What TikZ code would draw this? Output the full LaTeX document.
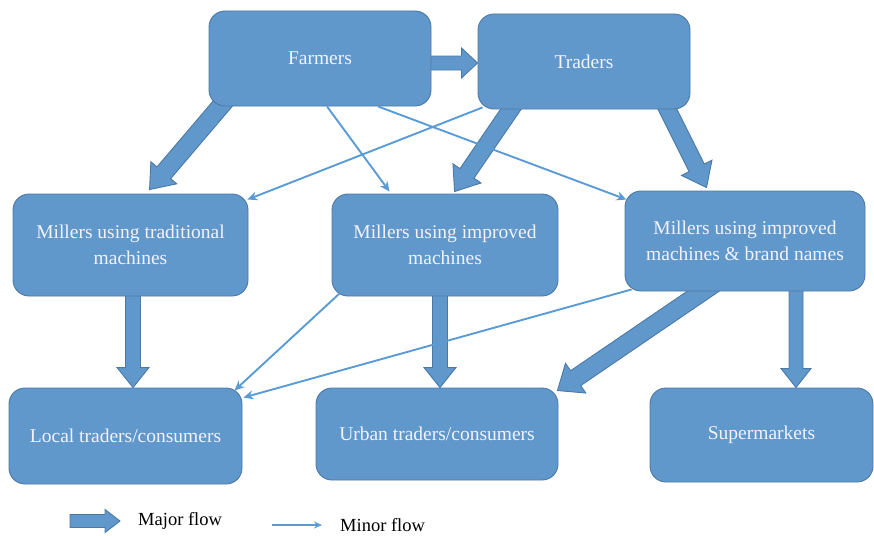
\documentclass[tikz,border=0pt]{standalone}
\usepackage{fontspec}
\setmainfont{Liberation Serif}
\usetikzlibrary{calc,arrows.meta}
\pgfdeclarelayer{bg}
\pgfsetlayers{bg,main}
\definecolor{boxfill}{HTML}{6198CB}
\definecolor{boxline}{HTML}{4A79A8}
\definecolor{minorc}{HTML}{5B9BD5}
\tikzset{
  box/.style={draw=boxline, line width=0.9pt, fill=boxfill, rounded corners=16pt,
    text=white!95!blue, align=center, font=\fontsize{19.5}{26}\selectfont, inner sep=0pt},
  major/.style={draw=boxline, line width=0.9pt, fill=boxfill, line join=miter},
  minor/.style={draw=minorc, line width=1.9pt, -{Stealth[length=10pt,width=9pt]}},
  legtext/.style={font=\fontsize{18.5}{20}\selectfont, anchor=west, inner sep=0pt}
}
\newcommand\blockarr[5]{%
  \coordinate (bh) at ($(#2)!#5!(#1)$);
  \draw[major] ($(#1)!#3!90:(#2)$) -- ($(bh)!#3!90:(#2)$) -- ($(bh)!#4!90:(#2)$)
    -- (#2) -- ($(bh)!#4!-90:(#2)$) -- ($(bh)!#3!-90:(#2)$) -- ($(#1)!#3!-90:(#2)$) -- cycle;
}
\begin{document}
\begin{tikzpicture}[x=1pt,y=-1pt]
\useasboundingbox (0,0) rectangle (874,535);
% boxes
\node[box, minimum width=222pt, minimum height=95pt] (farmers) at (320,58.5) {Farmers};
\node[box, minimum width=212pt, minimum height=95pt] (traders) at (584,61.5) {Traders};
\node[box, minimum width=235pt, minimum height=102pt] (mtrad) at (130.5,245) {Millers using traditional\\machines};
\node[box, minimum width=226pt, minimum height=102pt] (mimp) at (445,245) {Millers using improved\\machines};
\node[box, minimum width=240pt, minimum height=100pt] (mbrand) at (745,241) {Millers using improved\\machines \& brand names};
\node[box, minimum width=233pt, minimum height=96pt] (local) at (125.5,436) {Local traders/consumers};
\node[box, minimum width=242pt, minimum height=92pt] (urban) at (437,434) {Urban traders/consumers};
\node[box, minimum width=223pt, minimum height=94pt] (super) at (761.5,435) {Supermarkets};

% minor flows
\draw[minor] ($(farmers.south)+(7,0)$) -- ($(mimp.north west)+(58,-2)$);
\draw[minor] ($(farmers.south)+(58,0)$) -- ($(mbrand.north west)+(2,9)$);
\draw[minor] ($(traders.south west)+(5,-2)$) -- ($(mtrad.north east)+(-1,6)$);
\draw[minor] ($(mimp.south west)+(8,-3)$) -- ($(local.north east)+(-8,3)$);
\draw[minor] ($(mbrand.south west)+(7,-2)$) -- ($(local.north east)+(1,10)$);

% major flows (behind the boxes)
\begin{pgfonlayer}{bg}
\coordinate (a1) at ($(farmers.east)+(-10,4.5)$);
\coordinate (b1) at (traders.west |- a1);
\blockarr{a1}{b1}{7pt}{15pt}{16pt}
\coordinate (a2) at ($(farmers.south west)+(22,-12)$);
\coordinate (b2) at ($(mtrad.north west)+(137,-4)$);
\blockarr{a2}{b2}{9pt}{17pt}{22pt}
\coordinate (a3) at ($(traders.south west)+(40,-10)$);
\coordinate (b3) at ($(mimp.north west)+(123,-2)$);
\blockarr{a3}{b3}{8.5pt}{17pt}{22pt}
\coordinate (a4) at ($(traders.south west)+(185,-10)$);
\coordinate (b4) at ($(mbrand.north west)+(82,-3)$);
\blockarr{a4}{b4}{8.5pt}{17pt}{22pt}
\coordinate (a5) at ($(mtrad.south)+(2.5,-10)$);
\coordinate (b5) at (a5 |- local.north);
\blockarr{a5}{b5}{7.5pt}{16pt}{20pt}
\coordinate (a6) at ($(mimp.south)+(-5,-10)$);
\coordinate (b6) at (a6 |- urban.north);
\blockarr{a6}{b6}{7.5pt}{16pt}{20pt}
\coordinate (a7) at ($(mbrand.south west)+(90,-8)$);
\coordinate (b7) at ($(urban.north east)+(-1,3)$);
\blockarr{a7}{b7}{9pt}{18pt}{22pt}
\coordinate (a8) at ($(mbrand.south)+(51,-10)$);
\coordinate (b8) at (a8 |- super.north);
\blockarr{a8}{b8}{7pt}{15pt}{19pt}
\end{pgfonlayer}

% legend
\coordinate (la) at (70,521);
\coordinate (lb) at (120,521);
\blockarr{la}{lb}{6.5pt}{11.5pt}{15pt}
\node[legtext] (majt) at (138,521) {Major flow};
\coordinate (ma) at (272,525);
\coordinate (mb) at (322,525);
\draw[minor, line width=1.5pt, -{Stealth[length=8pt,width=7pt]}] (ma) -- (mb);
\node[legtext] (mint) at (340,525) {Minor flow};
\end{tikzpicture}
\end{document}
